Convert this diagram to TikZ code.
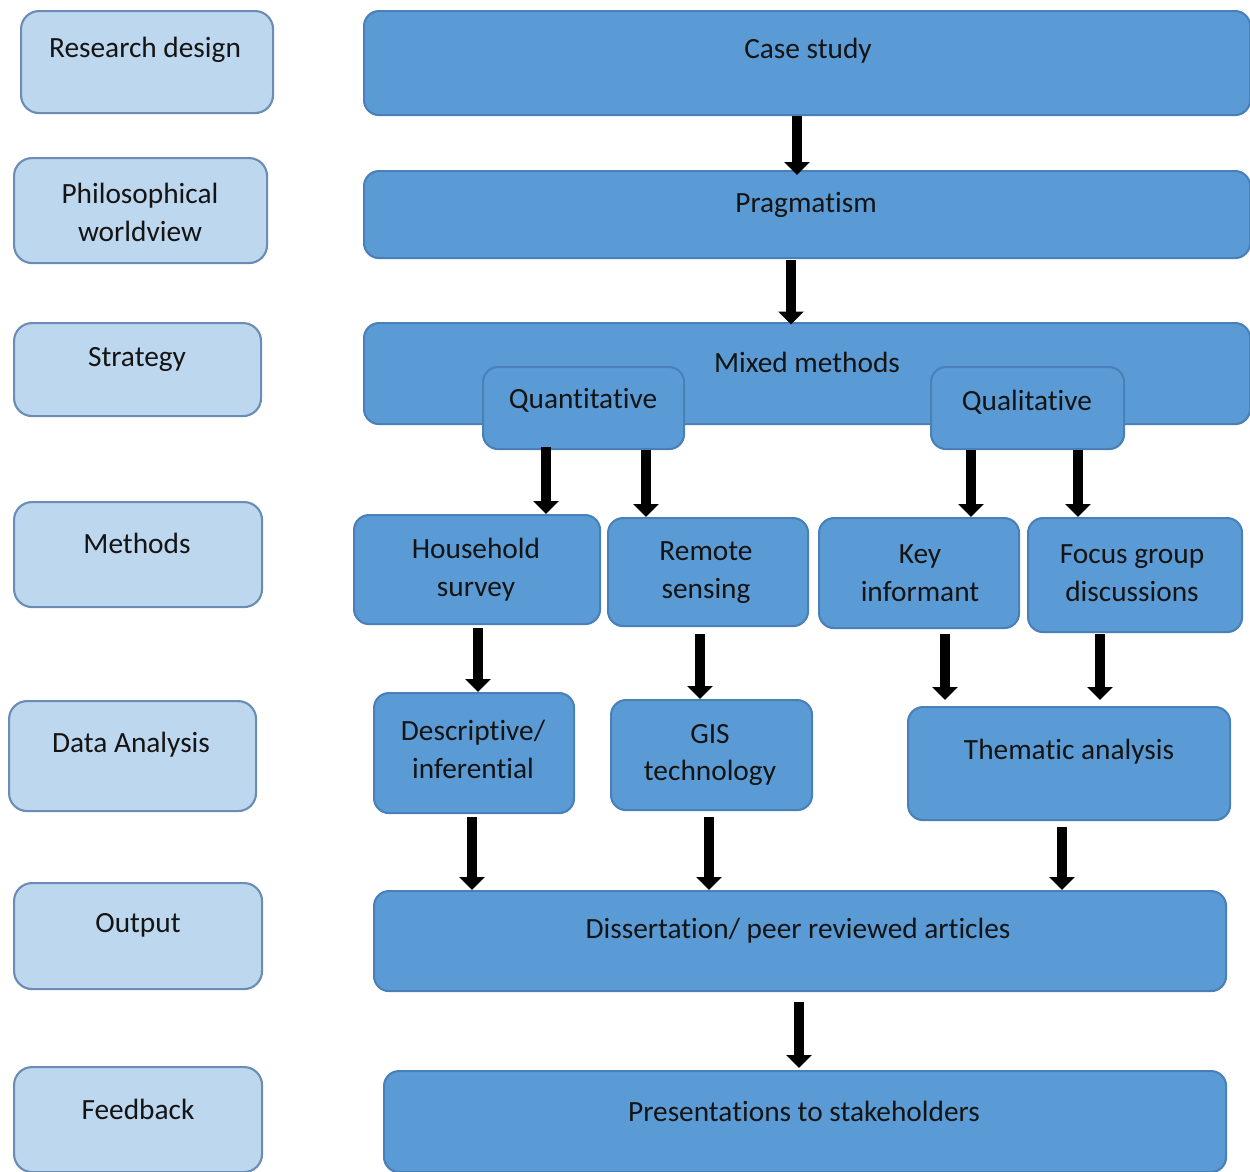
\documentclass[tikz,border=0pt]{standalone}
\usepackage{fontspec}
\setmainfont[Ligatures=NoCommon]{Carlito}
\usetikzlibrary{arrows.meta}
\definecolor{lightfill}{HTML}{BDD7EE}
\definecolor{lightdraw}{HTML}{6A8CB5}
\definecolor{darkfill}{HTML}{5B9BD5}
\definecolor{darkdraw}{HTML}{4A80B8}
\tikzset{
  lbox/.style={draw=lightdraw, fill=lightfill, line width=1.2pt, rounded corners=0.36cm, inner sep=0pt, anchor=north west},
  dbox/.style={draw=darkdraw, fill=darkfill, line width=1.2pt, rounded corners=0.3cm, inner sep=0pt, anchor=north west},
  txt/.style={font=\fontsize{16.7}{21.6}\selectfont, align=center, inner sep=0pt, text=black!92},
  arr/.style={line width=6pt, -{Triangle[width=0.5cm,length=0.26cm]}, black},
}
% \bx{name}{x1}{y1}{x2}{y2}{style}
\newcommand{\bx}[6]{%
  \pgfmathsetmacro{\bw}{(#4-#2)*0.02}%
  \pgfmathsetmacro{\bh}{(#5-#3)*0.02}%
  \node[#6, minimum width=\bw cm, minimum height=\bh cm] (#1) at (#2,#3) {};%
}
\begin{document}
\begin{tikzpicture}[x=0.02cm, y=-0.02cm]
\useasboundingbox (0,0) rectangle (1250,1171);
% left column
\bx{rd}{20}{10}{272}{112}{lbox}
\node[txt] (rdt) at (145,50) {Research design};
\bx{pw}{13}{157}{266}{262}{lbox}
\node[txt] (pwt) at (140,212) {Philosophical\\worldview};
\bx{st}{13}{322}{260}{415}{lbox}
\node[txt] (stt) at (137,359) {Strategy};
\bx{me}{13}{501}{261}{606}{lbox}
\node[txt] (met) at (137,543) {Methods};
\bx{da}{8}{700}{255}{810}{lbox}
\node[txt] (dat) at (131,745) {Data Analysis};
\bx{ou}{13}{882}{261}{988}{lbox}
\node[txt] (out) at (138,925) {Output};
\bx{fb}{13}{1066}{261}{1171}{lbox}
\node[txt] (fbt) at (138,1109) {Feedback};
% right column
\bx{cs}{363}{10}{1249}{114}{dbox}
\node[txt] (cst) at (808,51) {Case study};
\bx{pr}{363}{170}{1249}{257}{dbox}
\node[txt] (prt) at (806,205) {Pragmatism};
\bx{mm}{363}{322}{1249}{423}{dbox}
\node[txt] (mmt) at (807,362) {Mixed methods};
\bx{qn}{482}{366}{683}{448}{dbox}
\node[txt] (qnt) at (583,400) {Quantitative};
\bx{ql}{930}{366}{1123}{448}{dbox}
\node[txt] (qlt) at (1027,402) {Qualitative};
\bx{hs}{353}{514}{599}{623}{dbox}
\node[txt] (hst) at (476,570) {Household\\survey};
\bx{rs}{607}{517}{807}{625}{dbox}
\node[txt] (rst) at (706,573) {Remote\\sensing};
\bx{ki}{818}{517}{1018}{627}{dbox}
\node[txt] (kit) at (920,573) {Key\\informant};
\bx{fg}{1027}{517}{1241}{631}{dbox}
\node[txt] (fgt) at (1132,573) {Focus group\\discussions};
\bx{di}{373}{692}{573}{812}{dbox}
\node[txt] (dit) at (473,749) {Descriptive/\\inferential};
\bx{gi}{610}{699}{811}{809}{dbox}
\node[txt] (git) at (710,755) {GIS\\technology};
\bx{ta}{907}{706}{1229}{819}{dbox}
\node[txt] (tat) at (1069,752) {Thematic analysis};
\bx{ds}{373}{890}{1225}{990}{dbox}
\node[txt] (dst) at (798,931) {Dissertation/ peer reviewed articles};
\bx{ps}{383}{1070}{1225}{1171}{dbox}
\node[txt] (pst) at (804,1111) {Presentations to stakeholders};
% arrows
\draw[arr] (cs.south -| 797,0) -- ([yshift=-0.1cm]pr.north -| 797,0);
\draw[arr] ([yshift=-0.02cm]pr.south -| 791,0) -- ([yshift=-0.05cm]mm.north -| 791,0);
\draw[arr] ([yshift=0.06cm]qn.south -| 546,0) -- (hs.north -| 546,0);
\draw[arr] (qn.south -| 646,0) -- (rs.north -| 646,0);
\draw[arr] (ql.south -| 971,0) -- (ki.north -| 971,0);
\draw[arr] (ql.south -| 1078,0) -- (fg.north -| 1078,0);
\draw[arr] ([yshift=-0.06cm]hs.south -| 478,0) -- (di.north -| 478,0);
\draw[arr] ([yshift=-0.14cm]rs.south -| 700,0) -- (gi.north -| 700,0);
\draw[arr] ([yshift=-0.1cm]ki.south -| 945,0) -- ([yshift=0.12cm]ta.north -| 945,0);
\draw[arr] ([yshift=-0.02cm]fg.south -| 1100,0) -- ([yshift=0.12cm]ta.north -| 1100,0);
\draw[arr] ([yshift=-0.06cm]di.south -| 472,0) -- (ds.north -| 472,0);
\draw[arr] ([yshift=-0.12cm]gi.south -| 709,0) -- (ds.north -| 709,0);
\draw[arr] ([yshift=-0.12cm]ta.south -| 1062,0) -- (ds.north -| 1062,0);
\draw[arr] ([yshift=-0.2cm]ds.south -| 799,0) -- ([yshift=0.04cm]ps.north -| 799,0);
\end{tikzpicture}
\end{document}
